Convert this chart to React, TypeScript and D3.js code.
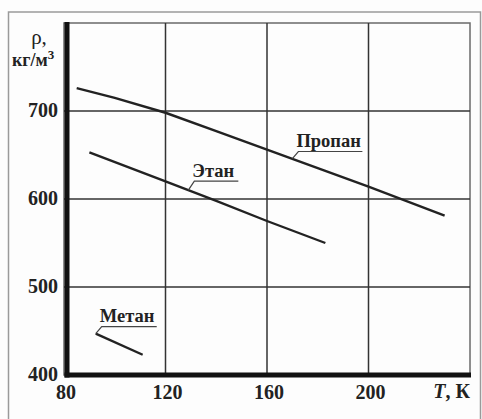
import React from "react";
import * as d3 from "d3";

// Liquid density vs temperature for light hydrocarbons
const xTicks = [80, 120, 160, 200];
const yTicks = [400, 500, 600, 700];

const propaneT = [85, 100, 120, 140, 160, 180, 200, 230];
const propaneRho = [726, 715, 698, 677, 656, 635, 614, 581];

const ethaneT = [90, 120, 140, 160, 183];
const ethaneRho = [653, 620, 598, 575, 550];

const methaneT = [92.5, 111];
const methaneRho = [447, 423];

const W = 482;
const H = 419;

const x = d3.scaleLinear().domain([80, 240]).range([64, 470]);
const y = d3.scaleLinear().domain([400, 800]).range([375, 23]);

const line = d3
  .line<[number, number]>()
  .x((d) => x(d[0]))
  .y((d) => y(d[1]));

const zip = (a: number[], b: number[]) => a.map((v, i) => [v, b[i]] as [number, number]);

const serif = "'Liberation Serif', 'Times New Roman', serif";

type Lbl = { text: string; t: number; rho: number; dx: number; dy: number; w: number };

// leader-line labels: (t, rho) is the anchor on the curve, dx/dy the offset of the underline start
const labels: Lbl[] = [
  { text: "Пропан", t: 170, rho: 646, dx: 6, dy: -7, w: 64 },
  { text: "Этан", t: 129, rho: 610, dx: 6, dy: -9, w: 44 },
  { text: "Метан", t: 92.5, rho: 447, dx: 6, dy: -7, w: 55 },
];

export default function App() {
  return (
    <svg width={W} height={H} style={{ display: "block", position: "absolute", left: 0, top: 0 }}>
      <rect x={0} y={0} width={W} height={H} fill="#fdfdfd" />
      {/* outer frame */}
      <rect x={8.5} y={12} width={472} height={420} fill="none" stroke="#9a9a9a" strokeWidth={1.5} />
      {/* plot border */}
      <rect x={64} y={23} width={406} height={352} fill="none" stroke="#6a6a6a" strokeWidth={1.5} />
      {/* grid */}
      {xTicks.slice(1).map((t) => (
        <line key={"gx" + t} x1={x(t)} x2={x(t)} y1={23} y2={375} stroke="#333" strokeWidth={1.5} />
      ))}
      {yTicks.slice(1).map((v) => (
        <line key={"gy" + v} x1={64} x2={470} y1={y(v)} y2={y(v)} stroke="#333" strokeWidth={1.5} />
      ))}
      {/* axes */}
      <line x1={67} x2={67} y1={22} y2={377.5} stroke="#111" strokeWidth={5} />
      <line x1={64.5} x2={471} y1={375} y2={375} stroke="#111" strokeWidth={5} />

      {/* curves */}
      {[zip(propaneT, propaneRho), zip(ethaneT, ethaneRho), zip(methaneT, methaneRho)].map((pts, i) => (
        <path key={i} d={line(pts) || ""} fill="none" stroke="#222" strokeWidth={2.4} />
      ))}

      {/* labels */}
      {labels.map((l) => {
        const ax = x(l.t);
        const ay = y(l.rho);
        const ux = ax + l.dx;
        const uy = ay + l.dy;
        return (
          <g key={l.text}>
            <polyline
              points={`${ax},${ay} ${ux},${uy} ${ux + l.w},${uy}`}
              fill="none"
              stroke="#444"
              strokeWidth={1.2}
            />
            <text x={ux - 2} y={uy - 4.5} fontFamily={serif} fontWeight="bold" fontSize={18.5} fill="#222">
              {l.text}
            </text>
          </g>
        );
      })}

      {/* tick labels */}
      {xTicks.map((t) => (
        <text key={"tx" + t} x={x(t) + 2} y={399} textAnchor="middle" fontFamily={serif} fontWeight="bold" fontSize={20} fill="#222">
          {t}
        </text>
      ))}
      {yTicks.map((v) => (
        <text key={"ty" + v} x={58} y={y(v) + 6} textAnchor="end" fontFamily={serif} fontWeight="bold" fontSize={20} fill="#222">
          {v}
        </text>
      ))}

      {/* axis titles */}
      <text x={39} y={44} textAnchor="middle" fontFamily={serif} fontSize={21} fill="#222">
        ρ,
      </text>
      <text x={12} y={66} fontFamily={serif} fontWeight="bold" fontSize={18} fill="#222">
        кг/м<tspan dy={-7} fontSize={13}>3</tspan>
      </text>
      <text x={470} y={398} textAnchor="end" fontFamily={serif} fontWeight="bold" fontSize={20} fill="#222">
        <tspan fontStyle="italic">T</tspan>, К
      </text>
    </svg>
  );
}
